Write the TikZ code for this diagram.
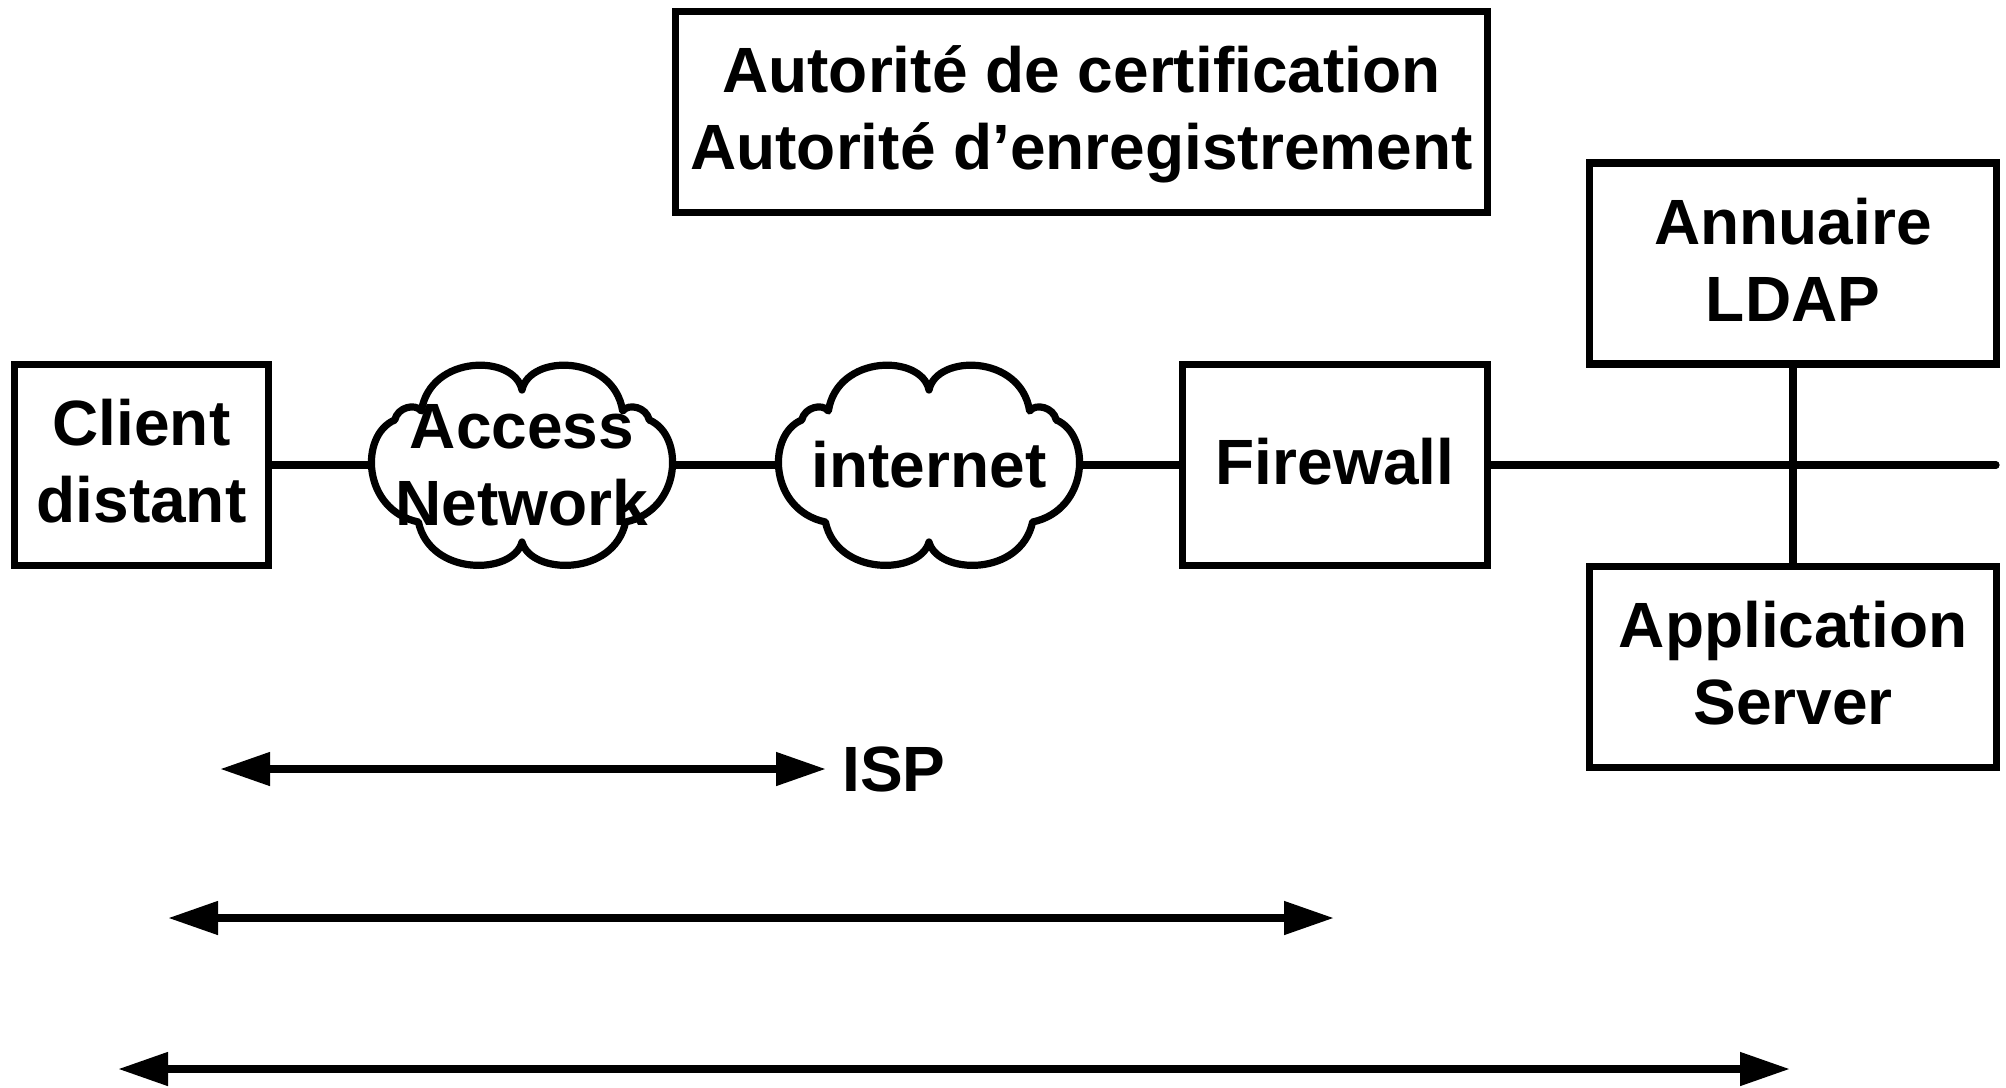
\documentclass[tikz,border=0pt]{standalone}
\usepackage{fontspec}
\setmainfont{Liberation Sans}
\usetikzlibrary{arrows.meta}

% Cloud outline in unit coordinates (u to the right, v upwards)
\def\cloudpath{(0,0.75)
  .. controls (-0.05,1.11) and (-0.62,1.11) .. (-0.68,0.54)
  .. controls (-0.72,0.62) and (-0.84,0.58) .. (-0.86,0.45)
  .. controls (-1.10,0.30) and (-1.08,-0.45) .. (-0.70,-0.57)
  .. controls (-0.62,-1.12) and (-0.06,-1.10) .. (0,-0.77)
  .. controls (0.06,-1.10) and (0.62,-1.12) .. (0.70,-0.57)
  .. controls (1.08,-0.45) and (1.10,0.30) .. (0.86,0.45)
  .. controls (0.84,0.58) and (0.72,0.62) .. (0.68,0.54)
  .. controls (0.62,1.11) and (0.05,1.11) .. (0,0.75) -- cycle}

\tikzset{
  bigtext/.style={font=\bfseries\fontsize{32pt}{38.5pt}\selectfont},
  box/.style={draw, line width=3.6pt, align=center, inner sep=0pt, text depth=4pt, bigtext},
  txt/.style={align=center, inner sep=0pt, bigtext},
  link/.style={line width=3.6pt, line join=round},
  span/.style={line width=3.9pt,
    {Triangle[length=25pt,width=16pt]}-{Triangle[length=25pt,width=16pt]}},
  cloudarea/.style={inner sep=0pt, minimum height=100pt, minimum width=150pt},
}

\begin{document}
\begin{tikzpicture}[x=0.5pt,y=-0.5pt]
\path[use as bounding box] (0,0) rectangle (2006,1087);

% Boxes
\node[box, minimum width=127pt, minimum height=100.5pt] (client) at (141.5,465) {Client\\distant};
\node[box, minimum width=406pt, minimum height=100.5pt] (ca) at (1081.5,112) {Autorité de certification\\Autorité d’enregistrement};
\node[box, minimum width=152.5pt, minimum height=100.5pt] (fw) at (1335,465) {Firewall};
\node[box, minimum width=203.5pt, minimum height=100.5pt] (ldap) at (1793,263.5) {Annuaire\\LDAP};
\node[box, minimum width=203.5pt, minimum height=100.5pt] (app) at (1793,667) {Application\\Server};

% Clouds
\node[cloudarea] (acc) at (522,465) {};
\begin{scope}[shift={(acc.center)}, x=74pt, y=50pt]
  \draw[link, fill=white] \cloudpath;
\end{scope}
\node[txt] (acctext) at (acc.center) {Access\\Network};

\node[cloudarea] (inet) at (929,465) {};
\begin{scope}[shift={(inet.center)}, x=74pt, y=50pt]
  \draw[link, fill=white] \cloudpath;
\end{scope}
\node[txt] (inettext) at (inet.center) {internet};

% Network links
\coordinate (busend) at (1996,465);
\draw[link] (client.east) -- (acc.west);
\draw[link] (acc.east) -- (inet.west);
\draw[link] (inet.east) -- (fw.west);
\draw[link, line cap=round] (fw.east) -- (busend);
\draw[link] (ldap.south) -- (app.north);

% Extent arrows
\node[bigtext, inner sep=0pt, anchor=west] (isp) at (842,769) {ISP};
\coordinate (s1a) at (220,769);
\coordinate (s1b) at (826,769);
\draw[span] (s1a) -- (s1b);

\coordinate (s2a) at (168,918);
\coordinate (s2b) at (1334,918);
\draw[span] (s2a) -- (s2b);

\coordinate (s3a) at (118,1069);
\coordinate (s3b) at (1790,1069);
\draw[span] (s3a) -- (s3b);
\end{tikzpicture}
\end{document}
